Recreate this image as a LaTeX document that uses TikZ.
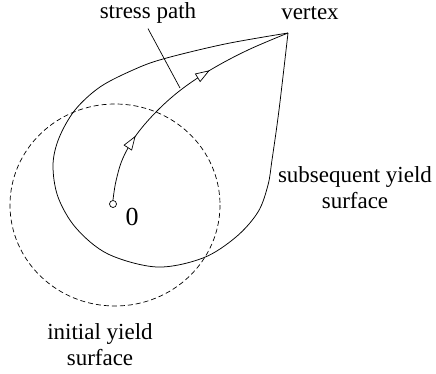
\documentclass[tikz,border=0pt]{standalone}
\usepackage{fontspec}
\setmainfont{Liberation Serif}
\usetikzlibrary{decorations.markings}
\begin{document}
\begin{tikzpicture}[x=1pt,y=-1pt,
  lbl/.style={font=\fontsize{23}{26}\selectfont, inner sep=0pt, align=center},
  curve/.style={line width=0.75pt},
  openhead/.style={line width=0.7pt, fill=white, line join=miter},
]
\useasboundingbox (0,0) rectangle (436,374);
% initial yield surface (dashed)
\draw[line width=0.7pt, dash pattern=on 5pt off 3pt] (115,205) ellipse [x radius=105, y radius=101];
% subsequent yield surface
\coordinate (V) at (288,33);
\draw[curve] plot[smooth, tension=0.55] coordinates {(288,33) (225,44) (163,59) (133,70) (100,87) (75,110) (59,138) (53,165) (58,197) (76,228) (108,254) (157,267) (203,258) (236,237) (258,212) (268,185) (272,160) (279,110) (288,33)};
% stress path
\node[circle, draw, fill=white, line width=0.7pt, minimum size=7pt, inner sep=0pt] (O) at (113,204) {};
\draw[curve, postaction={decorate}, decoration={markings,
   mark=at position 0.25 with {\draw[openhead] (4pt,0pt) -- (-9pt,4.5pt) -- (-9pt,-4.5pt) -- cycle;},
   mark=at position 0.64 with {\draw[openhead] (4pt,0pt) -- (-9pt,4.5pt) -- (-9pt,-4.5pt) -- cycle;}}]
  plot[smooth, tension=0.6] coordinates {(113,200) (116,181) (123,158) (137,134) (158,110) (182,89) (212,69) (248,50) (288,33)};
% labels
\node[lbl] (sp) at (148,13) {stress path};
\node[lbl] (vx) at (310,13) {vertex};
\node[lbl] (sub) at (355,188) {subsequent yield\\surface};
\node[lbl] (ini) at (100,345) {initial yield\\surface};
\node[font=\fontsize{26}{28}\selectfont, inner sep=0pt] (zero) at (132,217) {0};
\coordinate (spend) at (180,88);
\draw[line width=0.7pt] (sp.south) ++(0,5) -- (spend);
\end{tikzpicture}
\end{document}
